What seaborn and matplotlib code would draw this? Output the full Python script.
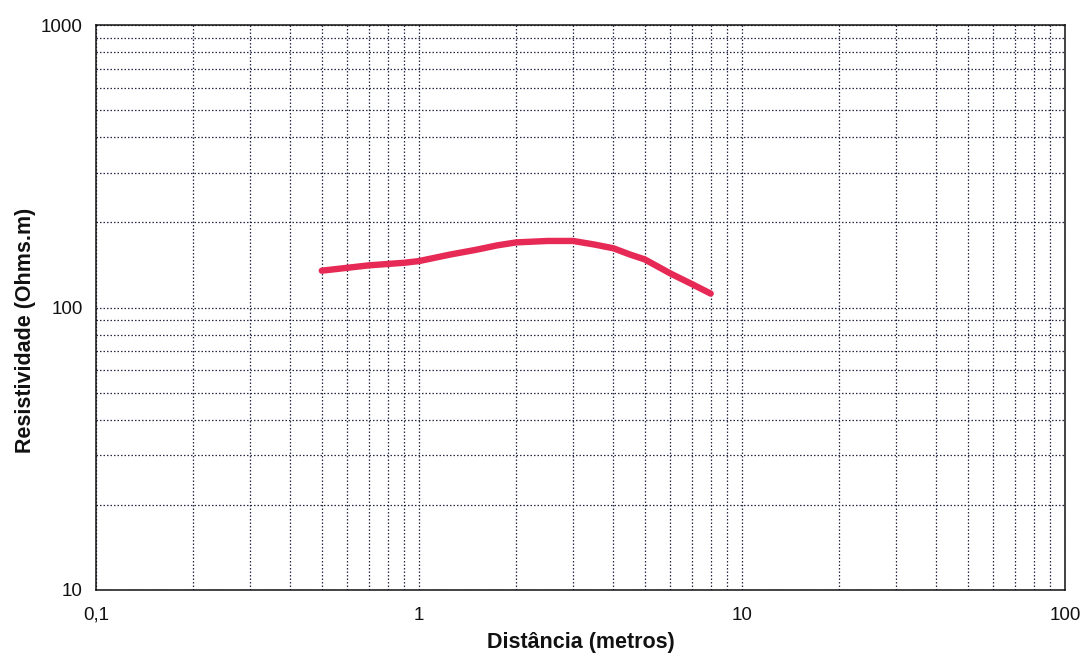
import matplotlib
matplotlib.use("Agg")
import matplotlib.pyplot as plt
import matplotlib.ticker as mticker
import numpy as np
import pandas as pd
import seaborn as sns

# Resistivity sounding: electrode distance (m) vs apparent resistivity (Ohm.m)
distancia = [0.5, 0.7, 0.9, 1.0, 1.25, 1.5, 1.75, 2.0, 2.5, 3.0, 3.5,
             4.0, 4.5, 5.0, 6.0, 7.0, 8.0]
resistividade = [135, 141, 144, 146, 154, 160, 166, 170, 172, 172, 167,
                 162, 154, 148, 132, 121, 112]

x_ticks = [0.1, 1, 10, 100]
x_tick_labels = ["0,1", "1", "10", "100"]
y_ticks = [10, 100, 1000]
y_tick_labels = ["10", "100", "1000"]

df = pd.DataFrame({"Distância (metros)": distancia,
                   "Resistividade (Ohms.m)": resistividade})

sns.set_style("white")
plt.rcParams["font.family"] = ["Liberation Sans", "DejaVu Sans"]

fig = plt.figure(figsize=(10.85, 6.56), dpi=100)
ax = fig.add_axes([96 / 1085, 1 - 590 / 656, 969 / 1085, 565 / 656])

sns.lineplot(data=df, x="Distância (metros)", y="Resistividade (Ohms.m)",
             ax=ax, color="#E62A55", linewidth=4.6, solid_capstyle="round",
             solid_joinstyle="round", sort=False)

ax.set_xscale("log")
ax.set_yscale("log")
ax.set_xlim(0.1, 100)
ax.set_ylim(10, 1000)

ax.xaxis.set_major_locator(mticker.FixedLocator(x_ticks))
ax.xaxis.set_major_formatter(mticker.FixedFormatter(x_tick_labels))
ax.yaxis.set_major_locator(mticker.FixedLocator(y_ticks))
ax.yaxis.set_major_formatter(mticker.FixedFormatter(y_tick_labels))
ax.xaxis.set_minor_locator(mticker.LogLocator(base=10, subs=np.arange(2, 10)))
ax.yaxis.set_minor_locator(mticker.LogLocator(base=10, subs=np.arange(2, 10)))
ax.xaxis.set_minor_formatter(mticker.NullFormatter())
ax.yaxis.set_minor_formatter(mticker.NullFormatter())

grid_kw = dict(color="#262845", linewidth=0.9, linestyle=(0, (1.2, 1.6)))
ax.grid(True, which="both", axis="both", **grid_kw)
ax.set_axisbelow(True)

ax.tick_params(which="major", direction="out", length=6, width=1,
               color="black", labelsize=13.5, labelcolor="#111111")
ax.tick_params(axis="x", which="major", pad=6)
ax.tick_params(which="minor", length=0)

for side in ["left", "right", "top", "bottom"]:
    ax.spines[side].set_visible(True)
    ax.spines[side].set_color("#111111")
    ax.spines[side].set_linewidth(1.1)

ax.set_xlabel("Distância (metros)", fontsize=15.5, fontweight="bold",
              color="#111111", labelpad=6)
ax.set_ylabel("Resistividade (Ohms.m)", fontsize=15.5, fontweight="bold",
              color="#111111")
ax.yaxis.set_label_coords(-0.062, 0.46)

fig.savefig("out.png", dpi=100, facecolor="white")
